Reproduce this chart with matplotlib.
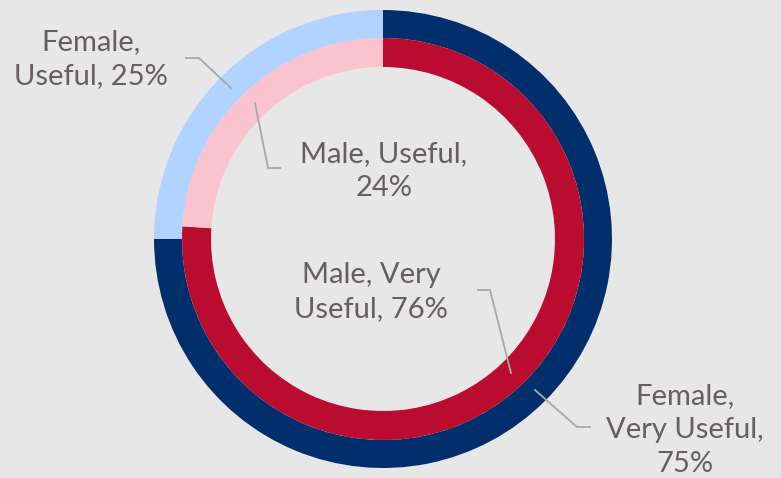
import matplotlib.pyplot as plt

plt.rcParams["font.family"] = ["Lato", "DejaVu Sans"]

# 値（外側: Female, 内側: Male）
female_labels = ["Female,\nVery Useful,\n75%", "Female,\nUseful, 25%"]
female_values = [75, 25]
male_labels = ["Male, Very\nUseful, 76%", "Male, Useful,\n24%"]
male_values = [76, 24]

female_colors = ["#002f6c", "#b0d4ff"]
male_colors = ["#ba0c2f", "#fbc3ce"]
bg = "#e7e7e7"
text_color = "#675f5f"
line_color = "#a8a8a8"

W, H = 781, 478
fig = plt.figure(figsize=(W / 100, H / 100), dpi=100, facecolor=bg)
ax = fig.add_axes([0, 0, 1, 1])
ax.set_facecolor(bg)

cx, cy = 383, H - 239
ax.pie(female_values, radius=229, center=(cx, cy), startangle=90, counterclock=False,
       colors=female_colors, wedgeprops=dict(width=28, linewidth=0))
ax.pie(male_values, radius=201, center=(cx, cy), startangle=90, counterclock=False,
       colors=male_colors, wedgeprops=dict(width=29, linewidth=0))

ax.set_xlim(0, W)
ax.set_ylim(0, H)
ax.set_aspect("equal")
ax.axis("off")

# ラベルと引き出し線（ピクセル座標、yは上から）
label_pos = {
  female_labels[0]: (685, 430),
  female_labels[1]: (91, 59),
  male_labels[0]: (371, 292),
  male_labels[1]: (384, 171),
}
leaders = [
  [(186, 58), (199, 58), (231, 88)],
  [(255, 103), (268, 168), (280, 168)],
  [(478, 290), (490, 290), (511, 373)],
  [(535, 390), (577, 427), (590, 427)],
]

for txt, (x, y) in label_pos.items():
  ax.text(x, H - y, txt, ha="center", va="center", fontsize=21,
          color=text_color, linespacing=1.4)

for pts in leaders:
  ax.plot([p[0] for p in pts], [H - p[1] for p in pts], color=line_color, lw=1.3)

fig.savefig("out.png", dpi=100, facecolor=bg)
